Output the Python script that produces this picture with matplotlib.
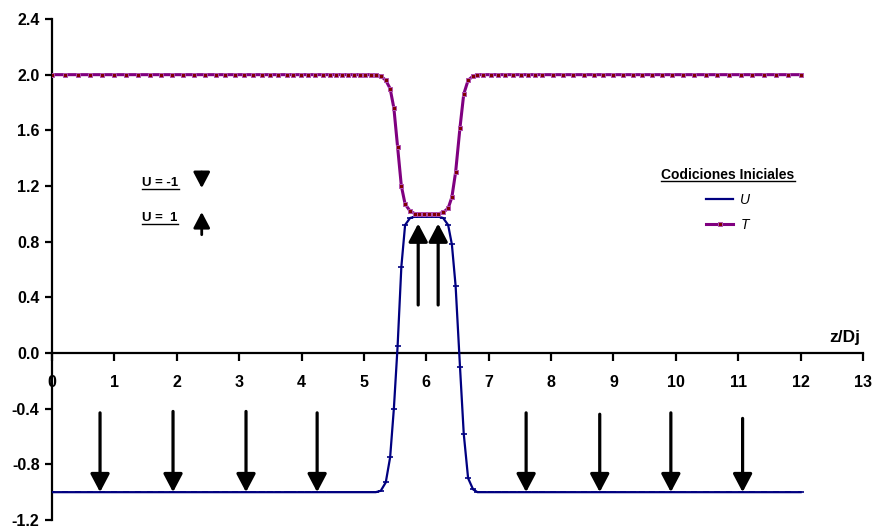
import matplotlib
matplotlib.use('Agg')
import matplotlib.pyplot as plt
from matplotlib.lines import Line2D

plt.rcParams['font.family'] = ['Liberation Sans', 'DejaVu Sans']

# mesh along the jet axis (refined near the centre)
z = [0.00, 0.21, 0.41, 0.61, 0.80, 0.99, 1.19, 1.38, 1.57, 1.75, 1.92, 2.10,
     2.28, 2.46, 2.63, 2.78, 2.93, 3.07, 3.22, 3.36, 3.49, 3.62, 3.76, 3.87,
     3.99, 4.10, 4.22, 4.34, 4.45, 4.55, 4.65, 4.75, 4.84, 4.93, 5.02, 5.11,
     5.19,
     5.27, 5.35, 5.42, 5.48, 5.54, 5.60, 5.66, 5.74, 5.82, 5.89, 5.96, 6.04,
     6.12, 6.19, 6.27, 6.35, 6.41, 6.47, 6.54, 6.60, 6.67, 6.75, 6.82,
     6.91, 7.04, 7.15, 7.26, 7.39, 7.52, 7.63, 7.74, 7.86, 8.03, 8.19, 8.35,
     8.53, 8.69, 8.83, 8.99, 9.15, 9.31, 9.46, 9.62, 9.78, 9.94, 10.11, 10.29,
     10.48, 10.66, 10.85, 11.04, 11.22, 11.41, 11.61, 11.80, 12.00]

U = [-1.00, -1.00, -1.00, -1.00, -1.00, -1.00, -1.00, -1.00, -1.00, -1.00, -1.00, -1.00,
     -1.00, -1.00, -1.00, -1.00, -1.00, -1.00, -1.00, -1.00, -1.00, -1.00, -1.00, -1.00,
     -1.00, -1.00, -1.00, -1.00, -1.00, -1.00, -1.00, -1.00, -1.00, -1.00, -1.00, -1.00,
     -1.00,
     -0.99, -0.93, -0.75, -0.40, 0.05, 0.62, 0.92, 0.97, 0.98, 0.98, 0.98, 0.98,
     0.98, 0.98, 0.97, 0.92, 0.78, 0.48, -0.10, -0.58, -0.90, -0.98, -1.00,
     -1.00, -1.00, -1.00, -1.00, -1.00, -1.00, -1.00, -1.00, -1.00, -1.00, -1.00, -1.00,
     -1.00, -1.00, -1.00, -1.00, -1.00, -1.00, -1.00, -1.00, -1.00, -1.00, -1.00, -1.00,
     -1.00, -1.00, -1.00, -1.00, -1.00, -1.00, -1.00, -1.00, -1.00]

T = [2.00, 2.00, 2.00, 2.00, 2.00, 2.00, 2.00, 2.00, 2.00, 2.00, 2.00, 2.00,
     2.00, 2.00, 2.00, 2.00, 2.00, 2.00, 2.00, 2.00, 2.00, 2.00, 2.00, 2.00,
     2.00, 2.00, 2.00, 2.00, 2.00, 2.00, 2.00, 2.00, 2.00, 2.00, 2.00, 2.00,
     2.00,
     1.99, 1.96, 1.90, 1.76, 1.48, 1.20, 1.07, 1.02, 1.00, 1.00, 1.00, 1.00,
     1.00, 1.00, 1.01, 1.04, 1.12, 1.30, 1.62, 1.86, 1.96, 1.99, 2.00,
     2.00, 2.00, 2.00, 2.00, 2.00, 2.00, 2.00, 2.00, 2.00, 2.00, 2.00, 2.00,
     2.00, 2.00, 2.00, 2.00, 2.00, 2.00, 2.00, 2.00, 2.00, 2.00, 2.00, 2.00,
     2.00, 2.00, 2.00, 2.00, 2.00, 2.00, 2.00, 2.00, 2.00]

# initial velocity direction: U = -1 outside the jet, U = 1 inside
down_z = [0.77, 1.94, 3.11, 4.25, 7.60, 8.78, 9.92, 11.07]
down_top = [-0.43, -0.42, -0.42, -0.43, -0.43, -0.44, -0.43, -0.47]
up_z = [5.87, 6.19]
up_bottom = [0.345, 0.345]

fig = plt.figure(figsize=(8.72, 5.30), dpi=100)
ax = fig.add_axes([52 / 872, 10 / 530, 811 / 872, 501 / 530])

ax.plot(z, U, color='#000080', lw=1.6, marker='_', ms=4, mew=1.2,
        label='U', zorder=3)
ax.plot(z, T, color='#800080', lw=2.2, marker='s', ms=3.2, mfc='#800000',
        mec='#b050b0', mew=0.7, label='T', zorder=4)

ax.set_xlim(0, 13)
ax.set_ylim(-1.2, 2.4)
ax.set_xticks(range(0, 14))
ax.set_yticks([-1.2, -0.8, -0.4, 0.0, 0.4, 0.8, 1.2, 1.6, 2.0, 2.4])
ax.set_yticklabels(['%.1f' % v for v in ax.get_yticks()])

for s in ['top', 'right']:
    ax.spines[s].set_visible(False)
ax.spines['bottom'].set_position(('data', 0))
ax.spines['left'].set_linewidth(1.6)
ax.spines['bottom'].set_linewidth(1.6)

ax.tick_params(axis='y', direction='out', length=5, width=1.6, pad=4, labelsize=11.5)
ax.tick_params(axis='x', direction='out', length=6, width=1.6, pad=10, labelsize=11.5)
for lab in ax.get_xticklabels() + ax.get_yticklabels():
    lab.set_fontweight('bold')

ax.text(12.95, 0.06, 'z/Dj', ha='right', va='bottom', fontsize=12.5, fontweight='bold')

big = dict(arrowstyle='-|>,head_length=1.1,head_width=0.58', color='k', lw=2.3,
           shrinkA=0, shrinkB=0)
for x, top in zip(down_z, down_top):
    ax.annotate('', xy=(x, -1.0), xytext=(x, top), arrowprops=big, zorder=6)
for x, bot in zip(up_z, up_bottom):
    ax.annotate('', xy=(x, 0.93), xytext=(x, bot), arrowprops=big, zorder=6)

small = dict(arrowstyle='-|>,head_length=0.95,head_width=0.5', color='k', lw=2.0,
             shrinkA=0, shrinkB=0)
ax.annotate('', xy=(2.40, 1.185), xytext=(2.40, 1.30), arrowprops=small)
ax.annotate('', xy=(2.40, 1.013), xytext=(2.40, 0.85), arrowprops=small)

t1 = ax.text(1.45, 1.22, 'U = -1', fontsize=9.5, fontweight='bold', va='center')
t2 = ax.text(1.45, 0.97, 'U =  1', fontsize=9.5, fontweight='bold', va='center')

leg = ax.legend(loc='upper center', bbox_to_anchor=(728 / 872, 1 - 155 / 530),
                bbox_transform=fig.transFigure, frameon=False,
                title='Codiciones Iniciales', handlelength=2.0, handletextpad=0.5,
                labelspacing=0.8, prop={'style': 'italic', 'size': 10}, numpoints=1)
leg.get_title().set_fontweight('bold')
leg.get_title().set_fontsize(10)

# underline the small annotations and the legend title
fig.canvas.draw()
renderer = fig.canvas.get_renderer()
W, H = fig.bbox.width, fig.bbox.height
for txt in [t1, t2, leg.get_title()]:
    bb = txt.get_window_extent(renderer)
    y = bb.y0 + 0.5
    fig.add_artist(Line2D([bb.x0 / W, bb.x1 / W], [y / H, y / H],
                          transform=fig.transFigure, color='k', lw=1.0))

fig.savefig('out.png', dpi=100)
